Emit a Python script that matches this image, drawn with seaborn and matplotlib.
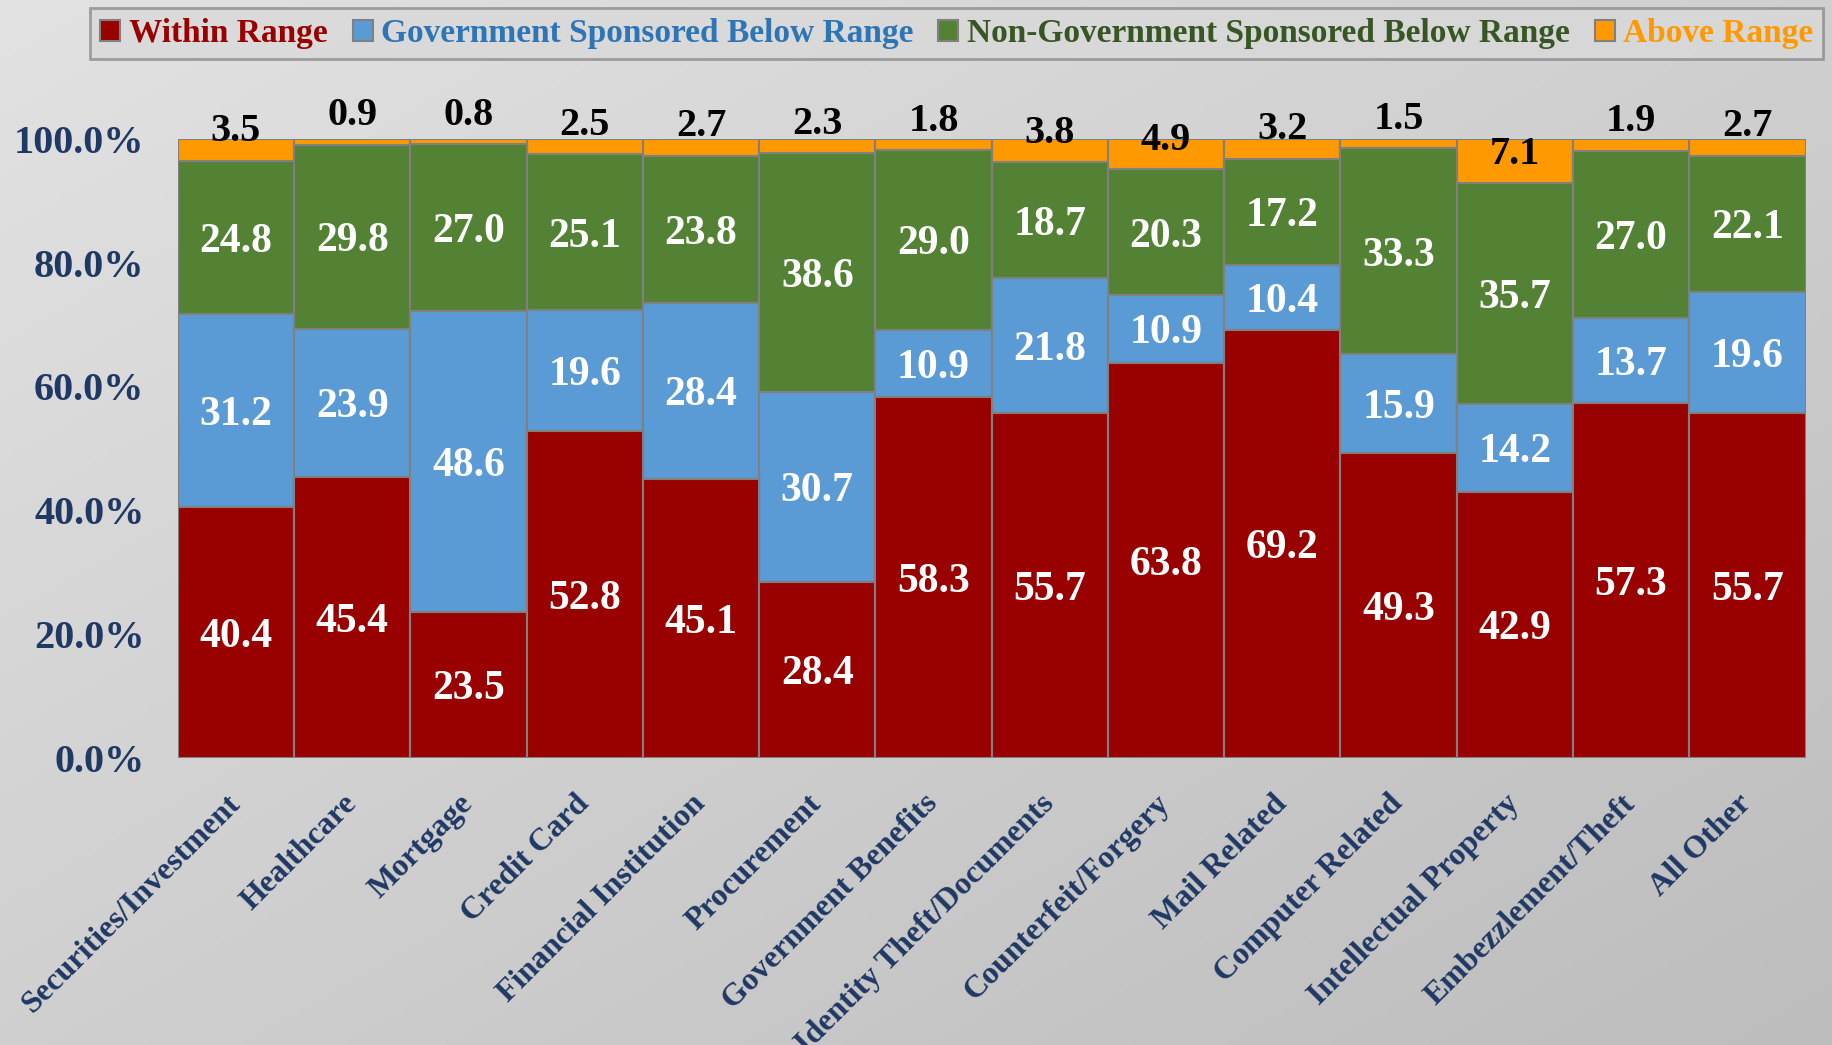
import numpy as np
import pandas as pd
import seaborn as sns
import matplotlib.pyplot as plt
from matplotlib.patches import Patch

categories = ["Securities/Investment", "Healthcare", "Mortgage", "Credit Card",
              "Financial Institution", "Procurement", "Government Benefits",
              "Identity Theft/Documents", "Counterfeit/Forgery", "Mail Related",
              "Computer Related", "Intellectual Property", "Embezzlement/Theft",
              "All Other"]
within = [40.4, 45.4, 23.5, 52.8, 45.1, 28.4, 58.3, 55.7, 63.8, 69.2, 49.3, 42.9, 57.3, 55.7]
gov_below = [31.2, 23.9, 48.6, 19.6, 28.4, 30.7, 10.9, 21.8, 10.9, 10.4, 15.9, 14.2, 13.7, 19.6]
nongov_below = [24.8, 29.8, 27.0, 25.1, 23.8, 38.6, 29.0, 18.7, 20.3, 17.2, 33.3, 35.7, 27.0, 22.1]
above = [3.5, 0.9, 0.8, 2.5, 2.7, 2.3, 1.8, 3.8, 4.9, 3.2, 1.5, 7.1, 1.9, 2.7]

series = ["Within Range", "Government Sponsored Below Range",
          "Non-Government Sponsored Below Range", "Above Range"]
colors = ["#990000", "#5B9BD5", "#548235", "#FF9900"]
text_colors = ["#990000", "#2E75B6", "#375623", "#FF9900"]

df = pd.DataFrame({"category": categories, series[0]: within, series[1]: gov_below,
                   series[2]: nongov_below, series[3]: above})
total = df[series].sum(axis=1)
share = df[series].div(total, axis=0) * 100
cum = share.cumsum(axis=1)
cum["category"] = categories

sns.set_theme(style="white")
plt.rcParams["font.family"] = ["Liberation Serif", "DejaVu Serif"]
plt.rcParams["font.weight"] = "bold"

fig = plt.figure(figsize=(18.33, 10.45), dpi=100)

# gradient background
bg = fig.add_axes([0, 0, 1, 1], zorder=-5)
xx, yy = np.meshgrid(np.linspace(0, 1, 300), np.linspace(0, 1, 200))
grad = 0.5 * xx + 0.5 * yy
bg.imshow(grad, cmap=sns.blend_palette(["#e2e2e2", "#bdbdbd"], as_cmap=True),
          aspect="auto", extent=[0, 1, 0, 1], origin="upper")
bg.axis("off")

ax = fig.add_axes([0.097, 0.275, 0.888, 0.592])
ax.patch.set_alpha(0)

# draw cumulative heights, tallest first, so they stack
for s, c in zip(series[::-1], colors[::-1]):
    sns.barplot(data=cum, x="category", y=s, color=c, width=1.0, saturation=1,
                edgecolor="#808080", linewidth=1.5, ax=ax, zorder=2)

bottoms = cum[series].values - share[series].values
for i in range(len(categories)):
    for j, s in enumerate(series):
        val = df[s].iloc[i]
        if j < 3:
            y = bottoms[i, j] + share[s].iloc[i] / 2
            ax.text(i, y, f"{val:.1f}", ha="center", va="center_baseline",
                    color="white", fontsize=30, fontweight="bold", zorder=5)
        else:
            y = bottoms[i, j] + 5.4
            ax.text(i, y, f"{val:.1f}", ha="center", va="center_baseline",
                    color="black", fontsize=29, fontweight="bold", zorder=5)

ax.set_xlim(-0.5, len(categories) - 0.5)
ax.set_ylim(0, 100)
ax.set_yticks(np.arange(0, 101, 20))
ax.set_yticklabels([f"{v:.1f}%" for v in np.arange(0, 101, 20)],
                   fontsize=29, fontweight="bold", color="#1F3864")
ax.tick_params(axis="y", length=0, pad=24)
ax.tick_params(axis="x", length=0, pad=30)
ax.set_xticks(range(len(categories)))
ax.set_xticklabels(categories, rotation=45, ha="right", va="center",
                   rotation_mode="anchor", fontsize=23, fontweight="bold",
                   color="#1F3864")
ax.set_xlabel("")
ax.set_ylabel("")
for sp in ax.spines.values():
    sp.set_visible(False)

handles = [Patch(facecolor=c, edgecolor="#808080", linewidth=1.5) for c in colors]
leg = fig.legend(handles, series, loc="upper center", bbox_to_anchor=(0.522, 1.008),
                 ncol=4, frameon=True, fancybox=False,
                 prop={"weight": "bold", "size": 24},
                 handlelength=0.6, handleheight=0.6, handletextpad=0.25,
                 columnspacing=0.75, borderpad=0.3, labelcolor=text_colors)
leg.get_frame().set_facecolor("#d9d9d9")
leg.get_frame().set_edgecolor("#8c8c8c")
leg.get_frame().set_linewidth(2)

plt.savefig("out.png", dpi=100)
